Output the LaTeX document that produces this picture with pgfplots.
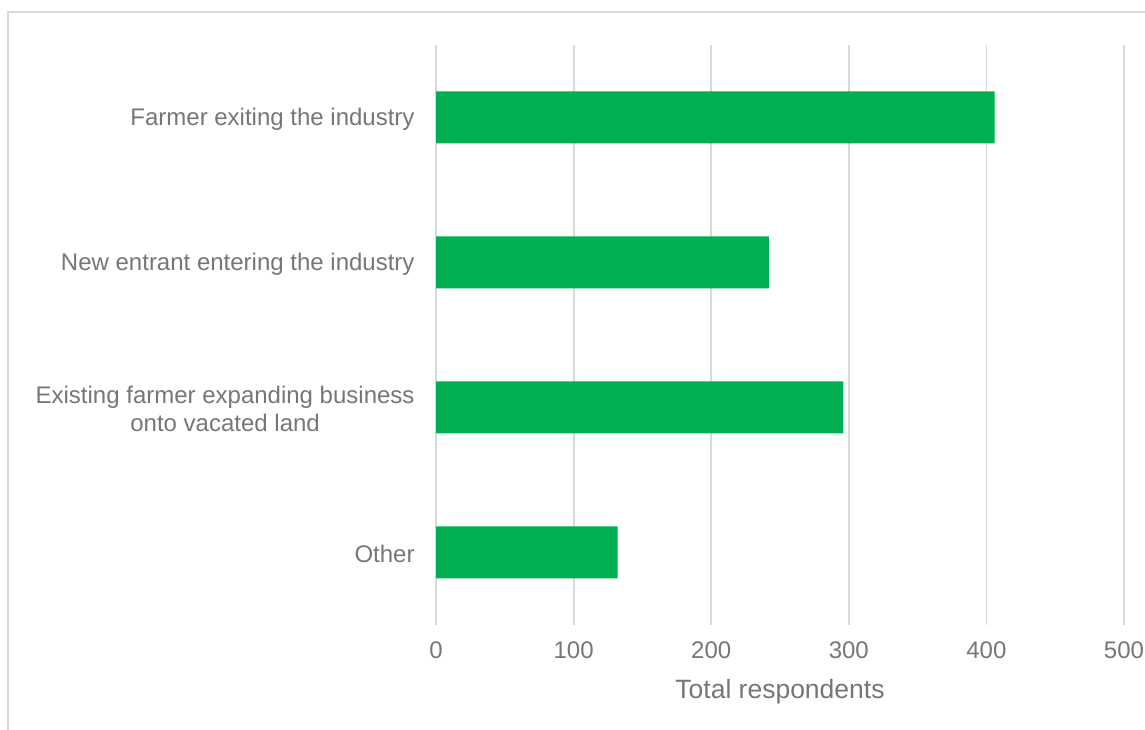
\documentclass[border=0pt]{standalone}
\usepackage{pgfplots}
\pgfplotsset{compat=1.18}
\usepackage{fontspec}
\setmainfont{Liberation Sans}
\definecolor{barg}{HTML}{00B050}
\definecolor{txt}{HTML}{767676}
\definecolor{gridc}{HTML}{D9D9D9}
\begin{document}
\begin{tikzpicture}[x=1pt,y=1pt]
\useasboundingbox (0,0) rectangle (1145,730);
\draw[gridc, line width=1.5pt] (8,-10) -- (8,718) -- (1160,718);
\begin{axis}[
  at={(436pt,105pt)}, anchor=south west,
  scale only axis, width=688pt, height=580pt,
  xmin=0, xmax=500, ymin=-0.5, ymax=3.5,
  xbar, bar width=52pt,
  xtick={0,100,200,300,400,500},
  ytick={0,1,2,3},
  yticklabels={Other,{Existing farmer expanding business\\onto vacated land},New entrant entering the industry,Farmer exiting the industry},
  /pgf/number format/assume math mode=true,
  axis line style={draw=none},
  tick style={draw=none},
  xmajorgrids, major grid style={gridc, line width=1.8pt},
  yticklabel style={align=center, font=\fontsize{24}{28}\selectfont, text=txt, inner sep=0pt, xshift=-17pt, yshift=-1.5pt},
  xticklabel style={font=\fontsize{24}{28}\selectfont, text=txt, inner sep=0pt, yshift=-17pt},
  xlabel={Total respondents},
  xlabel style={at={(axis description cs:0.5,0)}, anchor=north, yshift=-54pt, inner sep=0pt, font=\fontsize{26.5}{30}\selectfont, text=txt},
  clip=false,
]
\addplot[fill=barg, draw=none] coordinates {(132,0) (296,1) (242,2) (406,3)};
\end{axis}
\end{tikzpicture}
\end{document}
